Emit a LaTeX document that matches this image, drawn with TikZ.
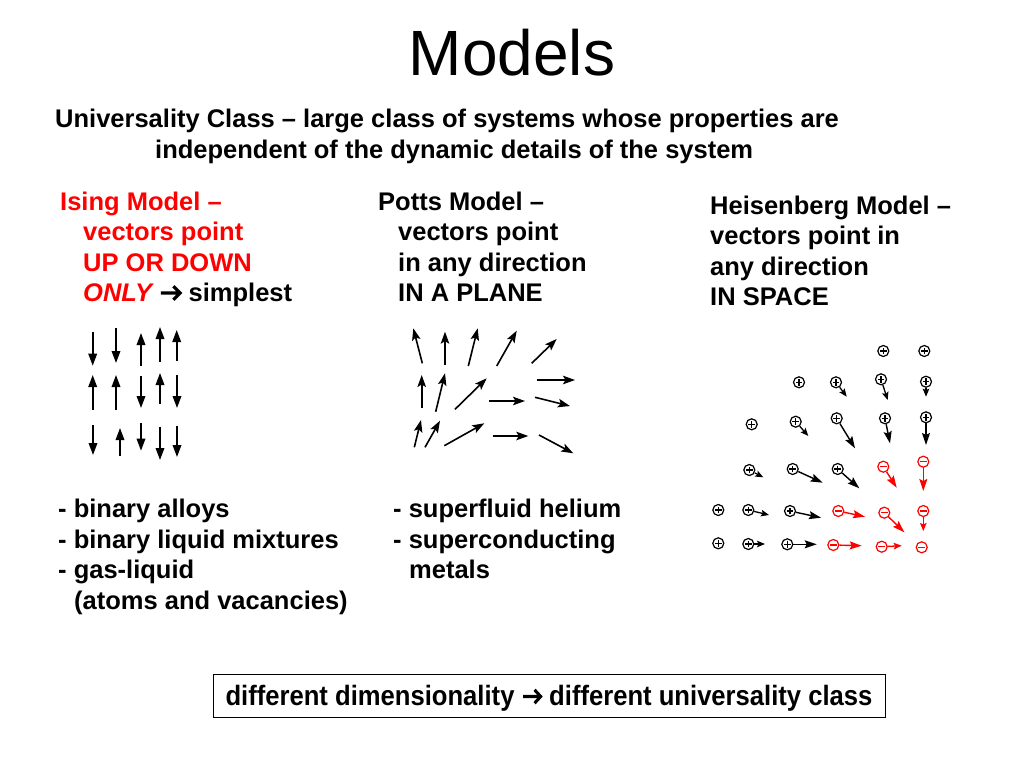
\documentclass[tikz,border=0pt]{standalone}
\usepackage{fontspec}
\setmainfont{Liberation Sans}
\usetikzlibrary{arrows.meta}
\definecolor{pptred}{RGB}{255,0,0}
\newcommand{\chevarr}{\tikz[baseline=0pt, x=1pt, y=1pt]{\draw[line width=3.2pt, line join=miter, black] (0,8.5) -- (19,8.5) (12.5,15.2) -- (19.2,8.5) -- (12.5,1.8);}}
\begin{document}
\begin{tikzpicture}[x=1pt,y=-1pt,
  txt/.style={anchor=base west, inner sep=0pt, font=\fontsize{25.5}{30}\selectfont\bfseries},
  redtxt/.style={txt, text=pptred},
  isa/.style={line width=1.8pt, -{Triangle[length=12pt,width=8.5pt]}},
  pta/.style={line width=1.6pt, -{Stealth[length=12pt,width=8.5pt,inset=2.5pt]}},
  hsa/.style={line width=1.3pt, -{Stealth[length=8pt,width=6.5pt,inset=1.5pt]}},
  hsb/.style={line width=1.4pt, -{Stealth[length=12pt,width=8pt,inset=2pt]}},
  pl/.style={circle, draw, line width=1.2pt, minimum size=11pt, inner sep=0pt,
    path picture={\draw[line width=1.1pt]
      ([xshift=-3.3pt]path picture bounding box.center) -- ([xshift=3.3pt]path picture bounding box.center)
      ([yshift=-3.3pt]path picture bounding box.center) -- ([yshift=3.3pt]path picture bounding box.center);}},
  mi/.style={circle, draw=pptred, line width=1.2pt, minimum size=11pt, inner sep=0pt,
    path picture={\draw[pptred,line width=1.1pt]
      ([xshift=-3.3pt]path picture bounding box.center) -- ([xshift=3.3pt]path picture bounding box.center);}},
  rsa/.style={hsa, pptred},
  rsb/.style={hsb, pptred}
]
\useasboundingbox[fill=white] (0,0) rectangle (1024,768);

% title
\node[anchor=base, inner sep=0pt, font=\fontsize{64}{70}\selectfont] (title) at (512,75) {Models};
\node[txt] (u1) at (55,127) {Universality Class -- large class of systems whose properties are};
\node[txt] (u2) at (155,158) {independent of the dynamic details of the system};

% Ising text
\node[redtxt] (i1) at (60,210) {Ising Model --};
\node[redtxt] (i2) at (83,240.5) {vectors point};
\node[redtxt] (i3) at (83,271) {UP OR DOWN};
\node[txt] (i4) at (83,301.5) {\textcolor{pptred}{\itshape ONLY} \chevarr\ simplest};

% Potts text
\node[txt] (p1) at (378,210) {Potts Model --};
\node[txt] (p2) at (398,240.5) {vectors point};
\node[txt] (p3) at (398,271) {in any direction};
\node[txt] (p4) at (398,301.5) {IN A PLANE};

% Heisenberg text
\node[txt] (h1) at (710,214) {Heisenberg Model --};
\node[txt] (h2) at (710,244.5) {vectors point in};
\node[txt] (h3) at (710,275) {any direction};
\node[txt] (h4) at (710,305.5) {IN SPACE};

% lists
\node[txt] (l1) at (58,517) {- binary alloys};
\node[txt] (l2) at (58,548) {- binary liquid mixtures};
\node[txt] (l3) at (58,578.5) {- gas-liquid};
\node[txt] (l4) at (74,609.5) {(atoms and vacancies)};
\node[txt] (m1) at (393,517) {- superfluid helium};
\node[txt] (m2) at (393,548) {- superconducting};
\node[txt] (m3) at (409,578.5) {metals};

% bottom box
\node[draw, line width=0.9pt, minimum width=672pt, minimum height=43pt, inner sep=0pt] (box) at (549,695.5) {};
\node[anchor=base, inner sep=0pt, font=\fontsize{28}{32}\selectfont\bfseries] (boxtxt) at (549,705)
  {\scalebox{0.915}[1]{different dimensionality \chevarr\ different universality class}};

% Ising arrows
\draw[isa] (92.7,331.7) -- (92.7,365.7);
\draw[isa] (116,328) -- (116,363);
\draw[isa] (141,366) -- (141,333);
\draw[isa] (160,361.7) -- (160,327);
\draw[isa] (176.7,360.7) -- (176.7,330);
\draw[isa] (92.7,410) -- (92.7,375);
\draw[isa] (116,410) -- (116,375);
\draw[isa] (141,375.7) -- (141,408);
\draw[isa] (160,404) -- (160,373);
\draw[isa] (177,375) -- (177,408);
\draw[isa] (93,425) -- (93,455);
\draw[isa] (120,456) -- (120,428);
\draw[isa] (141,423) -- (141,450.7);
\draw[isa] (160,426.7) -- (160,460);
\draw[isa] (177,426) -- (177,457);

% Potts arrows
\draw[pta] (422.3,363.3) -- (413.3,328.3);
\draw[pta] (445,365) -- (445,331.7);
\draw[pta] (468.3,366) -- (477.7,328.3);
\draw[pta] (496.7,366) -- (516.7,330.7);
\draw[pta] (531.7,363.3) -- (556.7,339);
\draw[pta] (421.7,408.3) -- (421.7,375);
\draw[pta] (435.7,411.7) -- (445,373.3);
\draw[pta] (455,409.3) -- (486.7,378.3);
\draw[pta] (489.3,401) -- (525,401);
\draw[pta] (536.7,380) -- (575,380);
\draw[pta] (535,397.3) -- (570,406);
\draw[pta] (414.3,447.3) -- (421,420);
\draw[pta] (425,447.3) -- (440,420.7);
\draw[pta] (444.3,445.7) -- (484.3,423.3);
\draw[pta] (492.7,436) -- (528.3,436);
\draw[pta] (539,435) -- (573.3,453.3);

% Heisenberg spins
\node[pl] (s11) at (883.3,351) {};
\node[pl] (s12) at (924.3,351) {};

\node[pl] (s21) at (799,382.3) {};
\node[pl] (s22) at (836,382.3) {};
\node[pl] (s23) at (881,379.3) {};
\node[pl] (s24) at (926,381.7) {};
\coordinate (e22) at (846.7,396.7);
\coordinate (e23) at (887.7,400);
\coordinate (e24) at (926,396.7);
\draw[hsa] (s22) -- (e22);
\draw[hsa] (s23) -- (e23);
\draw[hsa] (s24) -- (e24);

\node[pl] (s31) at (751.7,424.3) {};
\node[pl] (s32) at (795.7,421.7) {};
\node[pl] (s33) at (836.7,418.3) {};
\node[pl] (s34) at (885,418.3) {};
\node[pl] (s35) at (926,417.3) {};
\coordinate (e32) at (808.3,436);
\coordinate (e33) at (855,448.3);
\coordinate (e34) at (890,443.3);
\coordinate (e35) at (926,445);
\draw[hsa] (s32) -- (e32);
\draw[hsb] (s33) -- (e33);
\draw[hsb] (s34) -- (e34);
\draw[hsb] (s35) -- (e35);

\node[pl] (s41) at (749.3,470) {};
\node[pl] (s42) at (792.7,469) {};
\node[pl] (s43) at (837.7,469) {};
\node[mi] (s44) at (883.3,466.7) {};
\node[mi] (s45) at (923.3,461.7) {};
\coordinate (e41) at (763.3,477.3);
\coordinate (e42) at (822.7,482.7);
\coordinate (e43) at (859.3,488.3);
\coordinate (e44) at (896.7,487.7);
\coordinate (e45) at (923.3,491);
\draw[hsa] (s41) -- (e41);
\draw[hsb] (s42) -- (e42);
\draw[hsb] (s43) -- (e43);
\draw[rsb] (s44) -- (e44);
\draw[rsb] (s45) -- (e45);

\node[pl] (s51) at (718.3,510) {};
\node[pl] (s52) at (748.3,510) {};
\node[pl] (s53) at (790,511) {};
\node[mi] (s54) at (838.3,511) {};
\node[mi] (s55) at (884.3,512.7) {};
\node[mi] (s56) at (923.3,511) {};
\coordinate (e52) at (769,515);
\coordinate (e53) at (821,517.7);
\coordinate (e54) at (865,516.7);
\coordinate (e55) at (904.3,532.3);
\coordinate (e56) at (923.3,531);
\draw[hsa] (s52) -- (e52);
\draw[hsb] (s53) -- (e53);
\draw[rsb] (s54) -- (e54);
\draw[rsb] (s55) -- (e55);
\draw[rsa] (s56) -- (e56);

\node[pl] (s61) at (718.3,543.3) {};
\node[pl] (s62) at (748.3,544) {};
\node[pl] (s63) at (787.3,544.3) {};
\node[mi] (s64) at (833.3,545) {};
\node[mi] (s65) at (881.7,546.7) {};
\node[mi] (s66) at (921.7,547.3) {};
\coordinate (e62) at (765,544);
\coordinate (e63) at (816.7,544.3);
\coordinate (e64) at (861.7,545.7);
\coordinate (e65) at (901.7,545.7);
\draw[hsa] (s62) -- (e62);
\draw[hsb] (s63) -- (e63);
\draw[rsb] (s64) -- (e64);
\draw[rsa] (s65) -- (e65);
\end{tikzpicture}
\end{document}
